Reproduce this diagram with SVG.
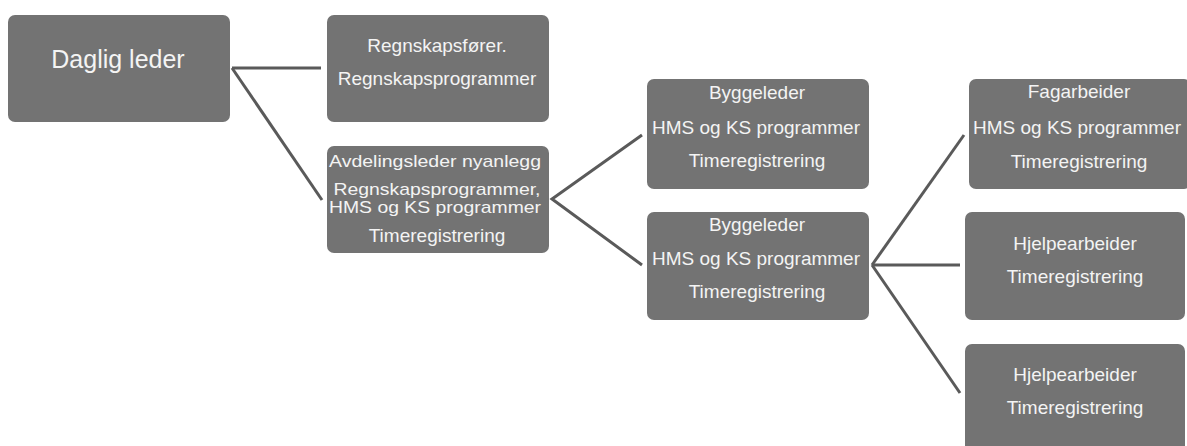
<svg xmlns="http://www.w3.org/2000/svg" width="1187" height="446" viewBox="0 0 1187 446">
<style>
.box{fill:#737373;}
.t{font-family:"Liberation Sans",Arial,sans-serif;font-size:19px;fill:#f4f4f4;text-anchor:middle;}
.big{font-size:25px;}
.sm{font-size:17px;}
.c{stroke:#5a5a5a;stroke-width:3;fill:none;stroke-linecap:butt;stroke-linejoin:miter;}
</style>
<rect width="1187" height="446" fill="#ffffff"/>
<g id="connectors">
<path class="c" d="M232,68 L321,68"/>
<path class="c" d="M232,68 L322,200"/>
<path class="c" d="M642,135 L552,199 L642,265"/>
<path class="c" d="M964,135 L872,265"/>
<path class="c" d="M872,265 L960,265"/>
<path class="c" d="M872,265 L960,393"/>
</g>
<g id="n-daglig">
<rect class="box" x="8" y="15" width="222" height="107" rx="7"/>
<text class="t big" x="118" y="68">Daglig leder</text>
</g>
<g id="n-regnskap">
<rect class="box" x="327" y="15" width="222" height="107" rx="7"/>
<text class="t" x="437" y="52">Regnskapsfører.</text>
<text class="t" x="437" y="85">Regnskapsprogrammer</text>
</g>
<g id="n-avdeling">
<rect class="box" x="327" y="146" width="222" height="107" rx="7"/>
<text class="t sm" x="435" y="167" textLength="212" lengthAdjust="spacingAndGlyphs">Avdelingsleder nyanlegg</text>
<text class="t sm" x="437" y="195" textLength="207" lengthAdjust="spacingAndGlyphs">Regnskapsprogrammer,</text>
<text class="t sm" x="435" y="213" textLength="212" lengthAdjust="spacingAndGlyphs">HMS og KS programmer</text>
<text class="t" x="437" y="242">Timeregistrering</text>
</g>
<g id="n-bygg1">
<rect class="box" x="647" y="79" width="222" height="110" rx="7"/>
<text class="t" x="757" y="99">Byggeleder</text>
<text class="t" x="756" y="134">HMS og KS programmer</text>
<text class="t" x="757" y="167">Timeregistrering</text>
</g>
<g id="n-bygg2">
<rect class="box" x="647" y="212" width="222" height="108" rx="7"/>
<text class="t" x="757" y="231">Byggeleder</text>
<text class="t" x="756" y="265">HMS og KS programmer</text>
<text class="t" x="757" y="298">Timeregistrering</text>
</g>
<g id="n-fag">
<rect class="box" x="969" y="79" width="222" height="110" rx="7"/>
<text class="t" x="1079" y="98">Fagarbeider</text>
<text class="t" x="1077" y="134">HMS og KS programmer</text>
<text class="t" x="1079" y="168">Timeregistrering</text>
</g>
<g id="n-hjelp1">
<rect class="box" x="965" y="212" width="220" height="108" rx="7"/>
<text class="t" x="1075" y="250">Hjelpearbeider</text>
<text class="t" x="1075" y="283">Timeregistrering</text>
</g>
<g id="n-hjelp2">
<rect class="box" x="965" y="344" width="220" height="108" rx="7"/>
<text class="t" x="1075" y="381">Hjelpearbeider</text>
<text class="t" x="1075" y="414">Timeregistrering</text>
</g>
</svg>
